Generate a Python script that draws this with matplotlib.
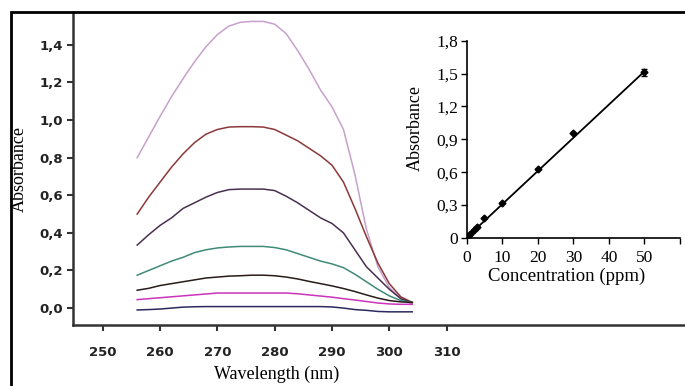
import numpy as np
import matplotlib.pyplot as plt
from matplotlib.patches import Rectangle

# UV spectra (wavelength in nm)
wl = [256, 258, 260, 262, 264, 266, 268, 270, 272, 274, 276, 278, 280,
      282, 284, 286, 288, 290, 292, 294, 296, 298, 300, 302, 304]
a_pink = [0.80, 0.91, 1.02, 1.125, 1.22, 1.31, 1.39, 1.455, 1.50, 1.52, 1.525, 1.525, 1.51,
          1.46, 1.37, 1.27, 1.16, 1.07, 0.95, 0.71, 0.42, 0.22, 0.11, 0.05, 0.02]
a_brown = [0.50, 0.59, 0.67, 0.75, 0.82, 0.88, 0.925, 0.95, 0.963, 0.965, 0.965, 0.963, 0.95,
           0.92, 0.89, 0.85, 0.81, 0.76, 0.67, 0.53, 0.38, 0.24, 0.13, 0.06, 0.03]
a_purple = [0.335, 0.39, 0.44, 0.48, 0.53, 0.56, 0.59, 0.615, 0.63, 0.633, 0.633, 0.633, 0.625,
            0.595, 0.56, 0.52, 0.48, 0.45, 0.40, 0.31, 0.22, 0.16, 0.10, 0.05, 0.03]
a_green = [0.175, 0.20, 0.225, 0.25, 0.27, 0.295, 0.31, 0.32, 0.325, 0.328, 0.328, 0.328, 0.322,
           0.31, 0.29, 0.27, 0.25, 0.235, 0.215, 0.18, 0.14, 0.10, 0.065, 0.04, 0.03]
a_black = [0.095, 0.105, 0.12, 0.13, 0.14, 0.15, 0.16, 0.165, 0.17, 0.172, 0.175, 0.175, 0.172,
           0.165, 0.155, 0.142, 0.13, 0.118, 0.104, 0.088, 0.07, 0.053, 0.04, 0.033, 0.03]
a_magenta = [0.045, 0.05, 0.055, 0.06, 0.065, 0.07, 0.075, 0.08, 0.08, 0.08, 0.08, 0.08, 0.08,
             0.08, 0.076, 0.07, 0.064, 0.058, 0.05, 0.043, 0.035, 0.027, 0.022, 0.02, 0.02]
a_navy = [-0.01, -0.008, -0.005, 0.0, 0.005, 0.007, 0.008, 0.008, 0.008, 0.008, 0.008, 0.008, 0.008,
          0.008, 0.008, 0.008, 0.008, 0.006, 0.0, -0.008, -0.012, -0.018, -0.02, -0.02, -0.02]

spectra = [a_pink, a_brown, a_purple, a_green, a_black, a_magenta, a_navy]
colors = ['#c8a0cc', '#8b3838', '#4a3050', '#3f8a78', '#2a1a1a', '#cc33bb', '#2a2a60']

# calibration curve
conc = [0.5, 1, 2, 3, 5, 10, 20, 30, 50]
absb = [0.02, 0.04, 0.07, 0.10, 0.18, 0.32, 0.63, 0.96, 1.51]
fit_x = [0, 50]
fit_y = [0.005, 1.52]

fig = plt.figure(figsize=(6.85, 3.86), dpi=100)

# frame around the picture (partly cut off right and bottom)
fig.patches.append(Rectangle((11 / 685, -0.1), 1.2, 1 - 12 / 386 + 0.1,
                             transform=fig.transFigure, fill=False,
                             edgecolor='black', linewidth=2))

ax = fig.add_axes([73 / 685, 1 - 325 / 386, 1 - 73 / 685, (325 - 12) / 386])
for y, c in zip(spectra, colors):
    ax.plot(wl, y, color=c, linewidth=1.1)
ax.set_xlim(244.8, 351.6)
ax.set_ylim(-0.09, 1.575)
ax.set_xticks([250, 260, 270, 280, 290, 300, 310])
ax.set_yticks([0, 0.2, 0.4, 0.6, 0.8, 1.0, 1.2, 1.4])
ax.set_yticklabels(['0,0', '0,2', '0,4', '0,6', '0,8', '1,0', '1,2', '1,4'])
for s in ['top', 'right']:
    ax.spines[s].set_visible(False)
for s in ['left', 'bottom']:
    ax.spines[s].set_linewidth(1.8)
    ax.spines[s].set_color('#333333')
ax.tick_params(labelsize=9.5, width=1.5, length=4, color='#333333')
ax.tick_params(axis='x', pad=11)
ax.tick_params(axis='y', pad=3)
for lab in ax.get_xticklabels() + ax.get_yticklabels():
    lab.set_fontweight('bold')
    lab.set_family('DejaVu Sans')
    lab.set_color('#222222')
ax.set_xlabel('Wavelength (nm)', family='Liberation Serif', fontsize=13)
ax.xaxis.set_label_coords(0.333, -0.13)
ax.set_ylabel('Absorbance', family='Liberation Serif', fontsize=13)
ax.yaxis.set_label_coords(-0.074, 0.5)

# inset: calibration curve
ins = fig.add_axes([466.7 / 685, 1 - 238 / 386, (680 - 466.7) / 685, (238 - 40.7) / 386])
ins.patch.set_alpha(0)
ins.plot(fit_x, fit_y, color='black', linewidth=1.3)
ins.plot(conc, absb, 'D', color='black', markersize=3.5)
ins.errorbar([50], [1.51], yerr=0.03, fmt='none', ecolor='black', capsize=2, linewidth=1)
ins.set_xlim(0, 60)
ins.set_ylim(0, 1.8)
ins.set_xticks([0, 10, 20, 30, 40, 50, 60])
ins.set_xticklabels(['0', '10', '20', '30', '40', '50', ''])
ins.set_yticks([0, 0.3, 0.6, 0.9, 1.2, 1.5, 1.8])
ins.set_yticklabels(['0', '0,3', '0,6', '0,9', '1,2', '1,5', '1,8'])
for s in ['top', 'right']:
    ins.spines[s].set_visible(False)
for s in ['left', 'bottom']:
    ins.spines[s].set_linewidth(1.2)
ins.tick_params(labelsize=12.5, width=1, length=4, pad=2)
ins.tick_params(axis='x', pad=5)
for lab in ins.get_xticklabels() + ins.get_yticklabels():
    lab.set_family('Liberation Serif')
ins.set_xlabel('Concentration (ppm)', family='Liberation Serif', fontsize=13.5)
ins.xaxis.set_label_coords(0.47, -0.15)
ins.set_ylabel('Absorbance', family='Liberation Serif', fontsize=13)
ins.yaxis.set_label_coords(-0.2, 0.56)

fig.savefig('out.png', dpi=100)
